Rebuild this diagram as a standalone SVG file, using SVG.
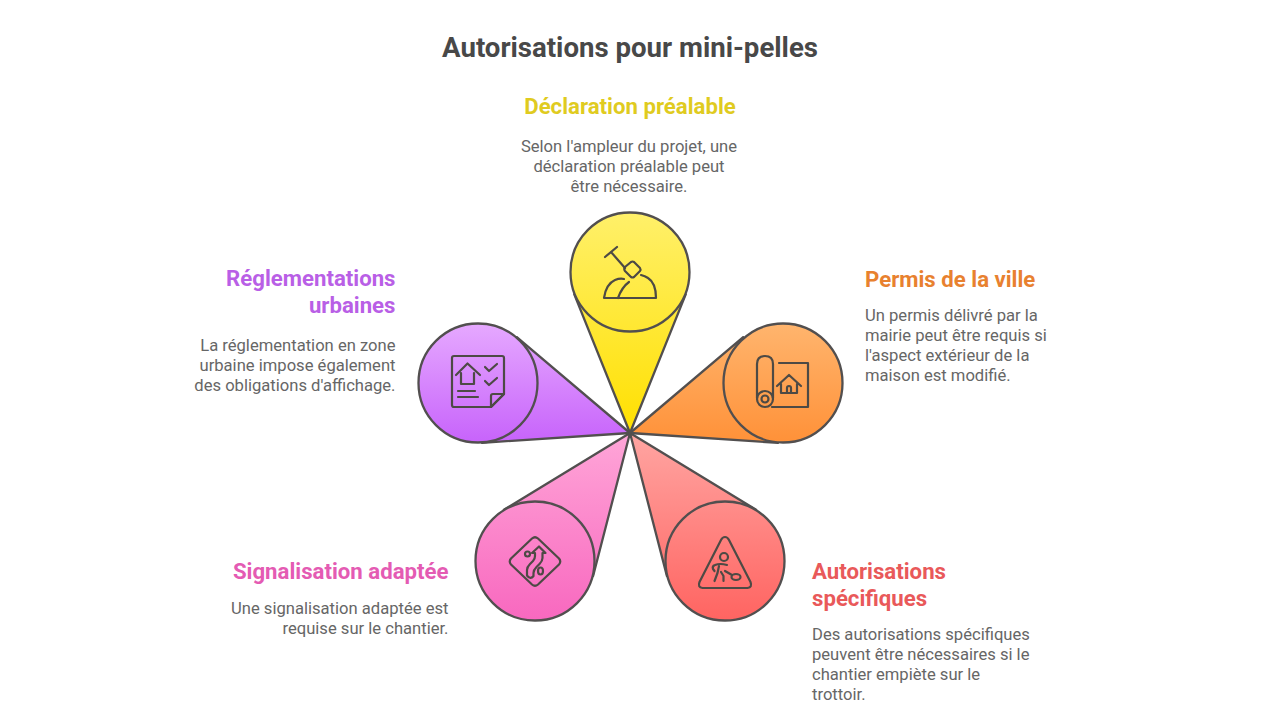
<svg xmlns="http://www.w3.org/2000/svg" width="1280" height="720" viewBox="0 0 1280 720">
<style>
text{font-family:Roboto,"Liberation Sans",sans-serif}
.title{font-size:27.6px;font-weight:700;fill:#484848;text-anchor:middle}
.h{font-size:22.200px;font-weight:700}
.b{font-size:16.600px;fill:#666}
.m{text-anchor:middle}.e{text-anchor:end}
.c{stroke:#524f4f;stroke-width:2.300}
.w{stroke:#524f4f;stroke-width:2.300;stroke-linejoin:round}
.i{fill:none;stroke:#4d4a45;stroke-width:2.200;stroke-linecap:round;stroke-linejoin:round}
</style>
<defs>
<linearGradient id="gy" gradientUnits="userSpaceOnUse" x1="0" y1="212" x2="0" y2="433"><stop offset="0" stop-color="#fff06a"/><stop offset="1" stop-color="#ffe000"/></linearGradient>
<linearGradient id="gp" gradientUnits="userSpaceOnUse" x1="0" y1="323" x2="0" y2="443"><stop offset="0" stop-color="#e6a9ff"/><stop offset="1" stop-color="#c763fb"/></linearGradient>
<linearGradient id="go" gradientUnits="userSpaceOnUse" x1="0" y1="323" x2="0" y2="443"><stop offset="0" stop-color="#ffb56e"/><stop offset="1" stop-color="#ff9138"/></linearGradient>
<linearGradient id="gk" gradientUnits="userSpaceOnUse" x1="0" y1="433" x2="0" y2="621"><stop offset="0" stop-color="#ffa6d8"/><stop offset="1" stop-color="#f868bf"/></linearGradient>
<linearGradient id="gr" gradientUnits="userSpaceOnUse" x1="0" y1="433" x2="0" y2="621"><stop offset="0" stop-color="#ffa5a2"/><stop offset="1" stop-color="#ff6461"/></linearGradient>
</defs>
<text class="title" x="630" y="56.500">Autorisations pour mini-pelles</text>
<g id="connectors"></g>

<g id="node-autorisations">
<path class="w" d="M630 433L666.900 576L756.100 509.800Z" fill="url(#gr)"/>
<circle class="c" cx="725" cy="561" r="59.500" fill="url(#gr)"/>
<g class="i"><path d="M725 537q2.500 0 4 3l21.500 42q2 5.500-3 6h-45q-5-.5-3-6l21.500-42q1.500-3 4-3z"/><circle cx="724" cy="557" r="4"/><path d="M727 565q-7-2-12 0-3 1-2 4l1.500 2M719 566l-1.500 7-3 8M721 572l2.500 4v5M725 571l7 4"/><ellipse cx="736" cy="577" rx="4.500" ry="3"/></g>
<text class="h" x="812" y="578.500" fill="#e9595a">Autorisations</text>
<text class="h" x="812" y="605.500" fill="#e9595a">spécifiques</text>
<text class="b" x="812" y="639.500">Des autorisations spécifiques</text>
<text class="b" x="812" y="659.500">peuvent être nécessaires si le</text>
<text class="b" x="812" y="679.500">chantier empiète sur le</text>
<text class="b" x="812" y="699.500">trottoir.</text>
</g>

<g id="node-signalisation">
<path class="w" d="M630 433L593.100 576L503.900 509.800Z" fill="url(#gk)"/>
<circle class="c" cx="535" cy="561" r="59.500" fill="url(#gk)"/>
<g class="i"><path d="M532 538.500q3-2.500 6 0l21 20q2.500 3 0 6l-21 20q-3 2.500-6 0l-21-20q-2.500-3 0-6z"/><path d="M527 575v-5q0-3 3-6l3-3q2-2 2-5v-3h-3l7-6.500 6.500 6.500h-3v5q0 3-3 6l-3 3q-3 3-3 6v3q-3 4-6.500-.5z"/><circle cx="527.500" cy="554" r="2.500"/><ellipse cx="540.500" cy="571" rx="2.500" ry="3.500"/></g>
<text class="h e" x="448.500" y="578.500" fill="#e45bb3">Signalisation adaptée</text>
<text class="b e" x="448.500" y="613.500">Une signalisation adaptée est</text>
<text class="b e" x="448.500" y="633.500">requise sur le chantier.</text>
</g>

<g id="node-reglementations">
<path class="w" d="M630 433L482 442.800L516.800 337.200Z" fill="url(#gp)"/>
<circle class="c" cx="478" cy="383" r="59.500" fill="url(#gp)"/>
<g class="i"><path d="M491 407h-37q-2 0-2-2v-47q0-2 2-2h48q2 0 2 2v36z"/><path d="M504 394h-11q-2 0-2 2v11z"/><path d="M456 375l11.500-11.500 12.500 11.500M461 373v11h13v-11"/><path d="M485 367l4 4 8-7M485 381l4 4 8-7M458 391h17M458 397h20"/></g>
<text class="h e" x="395.500" y="286" fill="#b95fe6">Réglementations</text>
<text class="h e" x="395.500" y="313" fill="#b95fe6">urbaines</text>
<text class="b e" x="395.500" y="350.500">La réglementation en zone</text>
<text class="b e" x="395.500" y="370.500">urbaine impose également</text>
<text class="b e" x="395.500" y="390.500">des obligations d'affichage.</text>
</g>

<g id="node-permis">
<path class="w" d="M630 433L778 442.800L743.200 337.200Z" fill="url(#go)"/>
<circle class="c" cx="783" cy="383" r="59.500" fill="url(#go)"/>
<g class="i"><path d="M757 398v-34q0-8 8-8t8 8v34"/><circle cx="765" cy="399" r="8"/><circle cx="765" cy="399" r="3.500"/><path d="M779 363h29v44h-36"/><path d="M777 386l12-11 12 11M781 384v9h16v-9M787 393v-5q0-2 2-2t2 2v5"/></g>
<text class="h" x="865" y="286.500" fill="#e8812f">Permis de la ville</text>
<text class="b" x="865" y="320.500">Un permis délivré par la</text>
<text class="b" x="865" y="340.500">mairie peut être requis si</text>
<text class="b" x="865" y="360.500">l'aspect extérieur de la</text>
<text class="b" x="865" y="380.500">maison est modifié.</text>
</g>

<g id="node-declaration">
<path class="w" d="M630 433L574.300 294.400L685.700 294.400Z" fill="url(#gy)"/>
<circle class="c" cx="630" cy="272" r="59.500" fill="url(#gy)"/>
<g class="i"><path d="M605 257l12-10M611 252l14 16"/><path d="M625 267l6-5q1.500-1 3 0l6 6q1 1.500 0 3l-6 6q-1.500 1-3 0l-6-6q-1.500-2 0-4z"/><path d="M604 298h52q0-15-8-20-3-2-7-3M618 298q4-11 11-16M604 298q2-14 11-18 5-2 9-1"/></g>
<text class="h m" x="630" y="113.500" fill="#e0cb1f">Déclaration préalable</text>
<text class="b m" x="629" y="151.500">Selon l'ampleur du projet, une</text>
<text class="b m" x="629" y="171.500">déclaration préalable peut</text>
<text class="b m" x="629" y="191.500">être nécessaire.</text>
</g>
</svg>
